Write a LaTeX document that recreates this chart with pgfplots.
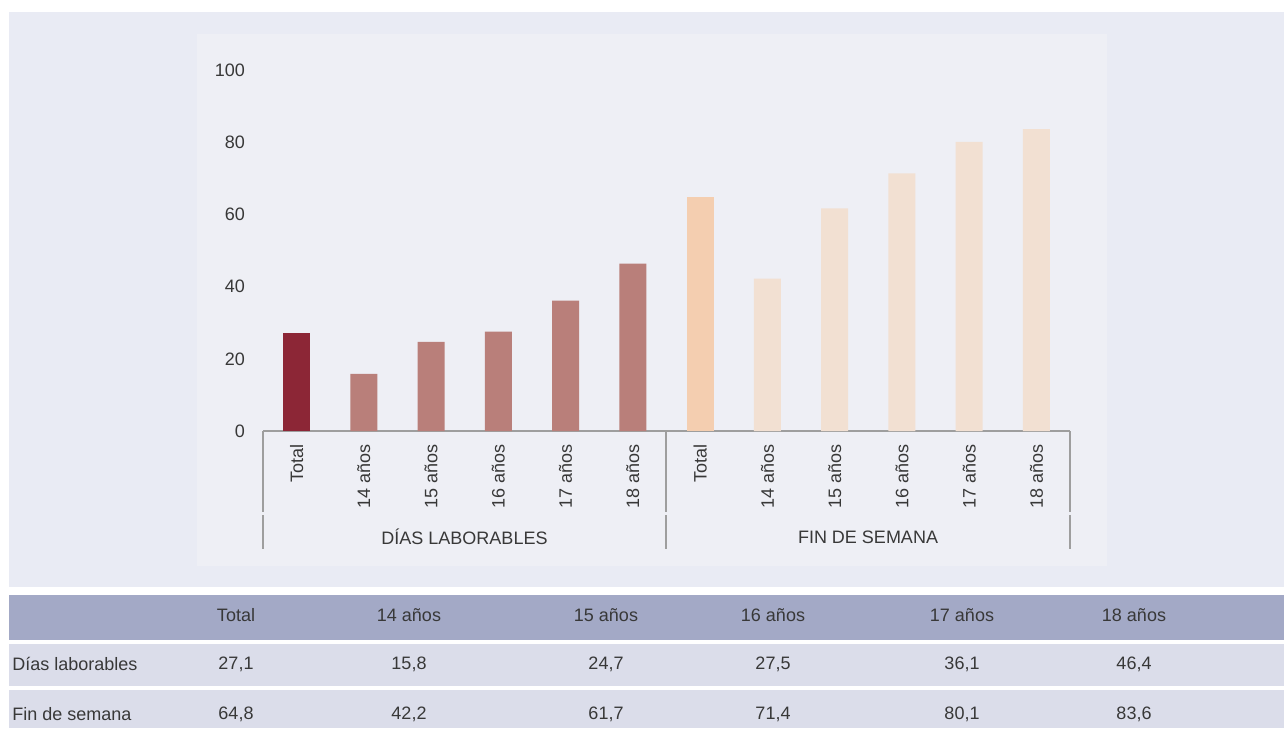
\documentclass[border=0pt]{standalone}
\usepackage{fontspec}
\setmainfont{Liberation Sans}
\usepackage{pgfplots}
\pgfplotsset{compat=1.18}
\definecolor{outerbg}{HTML}{E9EBF4}
\definecolor{innerbg}{HTML}{EEEFF5}
\definecolor{hdr}{HTML}{A3A9C6}
\definecolor{rowbg}{HTML}{DBDDEA}
\definecolor{darkred}{HTML}{8C2636}
\definecolor{rose}{HTML}{B97F7A}
\definecolor{peach}{HTML}{F4CEB0}
\definecolor{lightpeach}{HTML}{F2E0D2}
\definecolor{axgrey}{HTML}{9E9E9E}
\definecolor{txt}{HTML}{383838}
\begin{document}
\begin{tikzpicture}[font=\fontsize{9}{11}\selectfont]
\begin{scope}[x=0.5pt,y=-0.5pt]
\path[use as bounding box] (0,0) rectangle (1284,728);
\fill[white] (0,0) rectangle (1284,728);
\fill[outerbg] (9,12) rectangle (1284,587);
\fill[innerbg] (197,34) rectangle (1107,566);
\fill[hdr] (9,595) rectangle (1284,640);
\fill[rowbg] (9,644) rectangle (1284,686);
\fill[rowbg] (9,690) rectangle (1284,728);
\end{scope}
\begin{axis}[
  at={(131.5pt,-215.5pt)}, anchor=south west,
  scale only axis, width=403.5pt, height=180.5pt,
  xmin=-0.5, xmax=11.5, ymin=0, ymax=100,
  axis x line*=bottom, axis y line*=left,
  x axis line style={draw=axgrey, line width=0.75pt, -},
  y axis line style={draw=none},
  major tick length=0pt,
  ytick={0,20,40,60,80,100},
  xtick={0,1,2,3,4,5,6,7,8,9,10,11},
  xticklabels={Total,14 años,15 años,16 años,17 años,18 años,Total,14 años,15 años,16 años,17 años,18 años},
  xticklabel style={rotate=90, anchor=east, xshift=-3pt, text=txt, font=\fontsize{9}{11}\selectfont},
  yticklabel style={anchor=east, xshift=-5.5pt, text=txt, font=\fontsize{9}{11}\selectfont},
  /pgf/number format/assume math mode=true,
  clip=false,
]
\addplot[ybar, bar width=13.5pt, bar shift=0pt, fill=darkred, draw=none] coordinates {(0,27.1)};
\addplot[ybar, bar width=13.5pt, bar shift=0pt, fill=rose, draw=none] coordinates {(1,15.8) (2,24.7) (3,27.5) (4,36.1) (5,46.4)};
\addplot[ybar, bar width=13.5pt, bar shift=0pt, fill=peach, draw=none] coordinates {(6,64.8)};
\addplot[ybar, bar width=13.5pt, bar shift=0pt, fill=lightpeach, draw=none] coordinates {(7,42.2) (8,61.7) (9,71.4) (10,80.1) (11,83.6)};
\end{axis}
\begin{scope}[x=0.5pt,y=-0.5pt, every node/.style={text=txt, inner sep=0pt}]
\foreach \xx in {263,666,1070} {
  \draw[axgrey, line width=0.75pt] (\xx,431) -- (\xx,512);
  \draw[axgrey, line width=0.75pt] (\xx,515) -- (\xx,549);
}
\node at (464.5,537) {DÍAS LABORABLES};
\node at (868,537) {FIN DE SEMANA};
% table
\node at (236,615) {Total};
\node at (409,615) {14 años};
\node at (606,615) {15 años};
\node at (773,615) {16 años};
\node at (962,615) {17 años};
\node at (1134,615) {18 años};
\node[anchor=west] at (12,664) {Días laborables};
\node at (236,664) {27,1};
\node at (409,664) {15,8};
\node at (606,664) {24,7};
\node at (773,664) {27,5};
\node at (962,664) {36,1};
\node at (1134,664) {46,4};
\node[anchor=west] at (12,714) {Fin de semana};
\node at (236,714) {64,8};
\node at (409,714) {42,2};
\node at (606,714) {61,7};
\node at (773,714) {71,4};
\node at (962,714) {80,1};
\node at (1134,714) {83,6};
\end{scope}
\end{tikzpicture}
\end{document}
